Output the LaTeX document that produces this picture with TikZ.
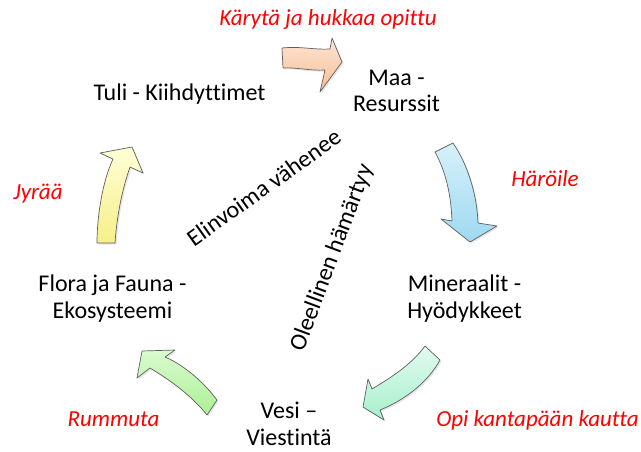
\documentclass[tikz,border=0pt]{standalone}
\usepackage{fontspec}
\setmainfont{Carlito}[Ligatures=NoCommon]
\usetikzlibrary{shadows}
\definecolor{oranssi1}{HTML}{FCE4D2}\definecolor{oranssi2}{HTML}{F7BE96}
\definecolor{sininen1}{HTML}{D6F1FB}\definecolor{sininen2}{HTML}{9ED9F1}
\definecolor{turkoosi1}{HTML}{E2FBF0}\definecolor{turkoosi2}{HTML}{A6F0CB}
\definecolor{vihrea1}{HTML}{DAFBCF}\definecolor{vihrea2}{HTML}{ABF095}
\definecolor{keltainen1}{HTML}{FFFFD6}\definecolor{keltainen2}{HTML}{F6EF88}
\begin{document}
\begin{tikzpicture}[x=1pt,y=-1pt,
    nimi/.style={font=\fontsize{24}{26.5}\selectfont,align=center,inner sep=0pt,anchor=base},
    verbi/.style={nimi,text=red,font=\fontsize{23}{26}\selectfont\itshape},
    nuoli/.style={draw=gray!75!black,line width=0.7pt,line join=round,
      drop shadow={opacity=0.2,shadow xshift=1.5pt,shadow yshift=-1.5pt}}]
    \useasboundingbox[fill=white] (0,0) rectangle (641,451);
    % nuolet
    \draw[nuoli,top color=oranssi1,bottom color=oranssi2] (282,48) .. controls (300,46) and (315,50) .. (330,49) -- (332,38) -- (342,62) -- (320,92) -- (325,70) .. controls (310,71) and (295,67) .. (283,68) -- cycle;
    \draw[nuoli,top color=sininen1,bottom color=sininen2] (435,152) -- (453,143) .. controls (468,165) and (477,195) .. (478,223) -- (497,226) -- (470,242) -- (441,219) -- (452,221) .. controls (451,195) and (446,172) .. (435,152) -- cycle;
    \draw[nuoli,top color=turkoosi1,bottom color=turkoosi2] (425,346) -- (440,360) .. controls (428,382) and (405,400) .. (380,410) -- (384,420) -- (363,407) -- (368,379) -- (372,389) .. controls (392,377) and (412,364) .. (425,346) -- cycle;
    \draw[nuoli,top color=vihrea1,bottom color=vihrea2] (207,415) -- (217,400) .. controls (205,384) and (186,366) .. (165,357) -- (175,350) -- (142,351) -- (137,378) -- (150,368) .. controls (170,380) and (192,396) .. (207,415) -- cycle;
    \draw[nuoli,top color=keltainen1,bottom color=keltainen2] (97,243) -- (115,243) .. controls (117,215) and (122,190) .. (130,167) -- (143,173) -- (132,147) -- (100,153) -- (113,159) .. controls (103,180) and (97,215) .. (97,243) -- cycle;
    % elementit
    \node[nimi] (maa) at (396.5,111.7) {Maa -\\Resurssit};
    \node[nimi] (mineraalit) at (464.5,318) {Mineraalit -\\Hyödykkeet};
    \node[nimi] (vesi) at (289,445) {Vesi --\\Viestintä};
    \node[nimi] (flora) at (112.5,318) {Flora ja Fauna -\\Ekosysteemi};
    \node[nimi] (tuli) at (179.5,100) {Tuli - Kiihdyttimet};
    % verbit
    \node[verbi] (karyta) at (328,25) {Kärytä ja hukkaa opittu};
    \node[verbi] (haroile) at (545,186) {Häröile};
    \node[verbi] (opi) at (537.5,426.7) {Opi kantapään kautta};
    \node[verbi] (rummuta) at (113.5,426.7) {Rummuta};
    \node[verbi] (jyraa) at (38,199) {Jyrää};
    % keskellä
    \node[nimi,rotate=35.5] (elinvoima) at (268.5,194) {Elinvoima vähenee};
    \node[nimi,rotate=69.4] (oleellinen) at (338,260) {Oleellinen hämärtyy};
\end{tikzpicture}
\end{document}
